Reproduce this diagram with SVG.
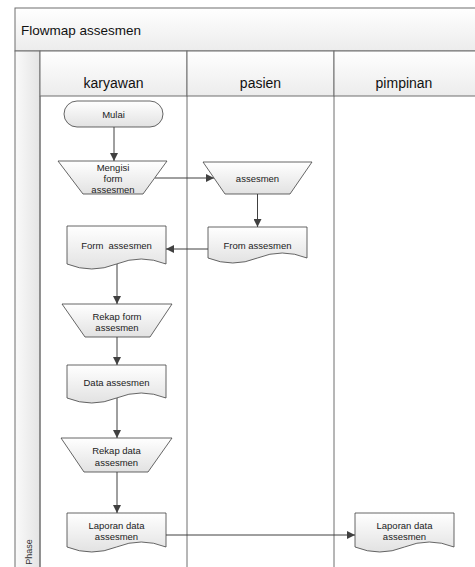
<svg xmlns="http://www.w3.org/2000/svg" width="475" height="567" viewBox="0 0 475 567">
  <defs>
    <linearGradient id="bandFill" x1="0" y1="0" x2="0" y2="1">
      <stop offset="0" stop-color="#ffffff"/>
      <stop offset="1" stop-color="#ececec"/>
    </linearGradient>
    <linearGradient id="phaseFill" x1="0" y1="0" x2="1" y2="0">
      <stop offset="0" stop-color="#fafafa"/>
      <stop offset="1" stop-color="#e4e4e4"/>
    </linearGradient>
    <linearGradient id="nodeFill" x1="0" y1="0" x2="0" y2="1">
      <stop offset="0" stop-color="#ffffff"/>
      <stop offset="1" stop-color="#e2e2e2"/>
    </linearGradient>
    <marker id="arrow" viewBox="0 0 10 10" refX="10" refY="5" markerWidth="8" markerHeight="8" markerUnits="userSpaceOnUse" orient="auto">
      <path d="M0,0 L10,5 L0,10 Z" fill="#404040"/>
    </marker>
  </defs>
  <style>
    .lane { fill: none; stroke: #6e6e6e; stroke-width: 1; }
    .band { fill: url(#bandFill); stroke: #6e6e6e; stroke-width: 1; }
    .shape { fill: url(#nodeFill); stroke: #404040; stroke-width: 0.8; }
    .edge { fill: none; stroke: #404040; stroke-width: 1; marker-end: url(#arrow); }
    .title { font-family: "Liberation Sans", Arial, sans-serif; font-size: 13.5px; fill: #111; }
    .head { font-family: "Liberation Sans", Arial, sans-serif; font-size: 14px; fill: #111; text-anchor: middle; }
    .lbl { font-family: "Liberation Sans", Arial, sans-serif; font-size: 9.5px; fill: #222; text-anchor: middle; }
    .phase { font-family: "Liberation Sans", Arial, sans-serif; font-size: 9px; fill: #333; text-anchor: middle; }
  </style>

  <rect width="475" height="567" fill="#ffffff"/>

  <!-- swimlane frame -->
  <g id="swimlanes">
    <rect class="band" x="15" y="8" width="462" height="43"/>
    <text class="title" x="21" y="35">Flowmap assesmen</text>
    <rect x="15" y="51" width="25" height="520" fill="url(#phaseFill)" stroke="#6e6e6e"/>
    <text class="phase" transform="translate(31.5,552) rotate(-90)">Phase</text>
    <rect class="band" x="40" y="51" width="147" height="45"/>
    <rect class="band" x="187" y="51" width="147" height="45"/>
    <rect class="band" x="334" y="51" width="143" height="45"/>
    <text class="head" x="113.5" y="88">karyawan</text>
    <text class="head" x="260.5" y="88">pasien</text>
    <text class="head" x="404" y="88">pimpinan</text>
    <line class="lane" x1="40" y1="96" x2="40" y2="571"/>
    <line class="lane" x1="187" y1="96" x2="187" y2="571"/>
    <line class="lane" x1="334" y1="96" x2="334" y2="571"/>
  </g>

  <!-- connectors -->
  <g id="connectors">
    <line class="edge" x1="114" y1="127" x2="114" y2="161"/>
    <line class="edge" x1="155" y1="178" x2="214" y2="178"/>
    <line class="edge" x1="257.5" y1="194" x2="257.5" y2="227"/>
    <line class="edge" x1="208" y1="249" x2="166" y2="249"/>
    <line class="edge" x1="117" y1="264" x2="117" y2="304"/>
    <line class="edge" x1="117" y1="337" x2="117" y2="365"/>
    <line class="edge" x1="117" y1="398" x2="117" y2="438"/>
    <line class="edge" x1="117" y1="472" x2="117" y2="513"/>
    <line class="edge" x1="166" y1="535" x2="355" y2="535"/>
  </g>

  <g id="mulai">
    <rect class="shape" x="64" y="101" width="99" height="26" rx="13" ry="13"/>
    <text class="lbl" x="113.5" y="117.5">Mulai</text>
  </g>

  <g id="mengisi-form">
    <path class="shape" d="M58,161 H167 L143,194 H83 Z"/>
    <text class="lbl" x="113" y="170.5">Mengisi</text>
    <text class="lbl" x="113" y="181.5">form</text>
    <text class="lbl" x="113" y="192.5">assesmen</text>
  </g>

  <g id="assesmen-pasien">
    <path class="shape" d="M203,162 H312 L290,194 H225 Z"/>
    <text class="lbl" x="257.5" y="181.5">assesmen</text>
  </g>

  <g id="from-assesmen">
    <path class="shape" d="M208,227 H307 V258 Q282.25,248 257.5,258 T208,258 Z"/>
    <text class="lbl" x="257.5" y="248.5">From assesmen</text>
  </g>

  <g id="form-assesmen">
    <path class="shape" d="M67,226 H166 V264 Q141.25,254 116.5,264 T67,264 Z"/>
    <text class="lbl" x="116.5" y="248.5" xml:space="preserve">Form  assesmen</text>
  </g>

  <g id="rekap-form">
    <path class="shape" d="M62,304 H172 L150,337 H85 Z"/>
    <text class="lbl" x="117" y="319.5">Rekap form</text>
    <text class="lbl" x="117" y="330.5">assesmen</text>
  </g>

  <g id="data-assesmen">
    <path class="shape" d="M67,365 H166 V398 Q141.25,388 116.5,398 T67,398 Z"/>
    <text class="lbl" x="116.5" y="385.5">Data assesmen</text>
  </g>

  <g id="rekap-data">
    <path class="shape" d="M61,438 H172 L148,472 H84 Z"/>
    <text class="lbl" x="116.5" y="453.5">Rekap data</text>
    <text class="lbl" x="116.5" y="465.5">assesmen</text>
  </g>

  <g id="laporan-karyawan">
    <path class="shape" d="M67,513 H166 V547 Q141.25,537 116.5,547 T67,547 Z"/>
    <text class="lbl" x="116.5" y="528.5">Laporan data</text>
    <text class="lbl" x="116.5" y="539.5">assesmen</text>
  </g>

  <g id="laporan-pimpinan">
    <path class="shape" d="M355,513 H454 V547 Q429.25,537 404.5,547 T355,547 Z"/>
    <text class="lbl" x="404.5" y="528.5">Laporan data</text>
    <text class="lbl" x="404.5" y="539.5">assesmen</text>
  </g>
</svg>
